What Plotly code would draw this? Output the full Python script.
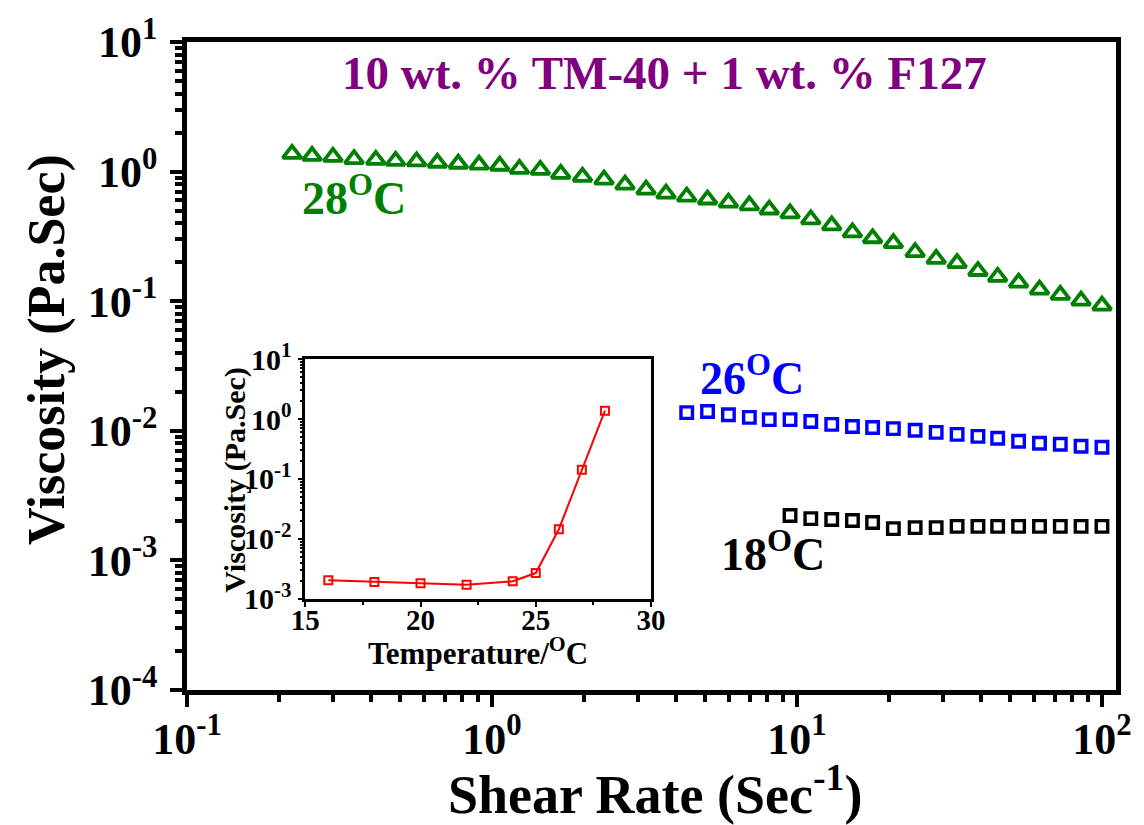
import plotly.graph_objects as go

# ---------------- data ----------------
shear_rate = [0.221, 0.257, 0.301, 0.353, 0.416, 0.483, 0.566, 0.662, 0.775, 0.907,
              1.06, 1.23, 1.44, 1.68, 1.98, 2.33, 2.73, 3.20, 3.72, 4.35,
              5.09, 5.96, 6.98, 8.11, 9.49, 11.1, 13.0, 15.2, 17.7, 20.7,
              24.4, 28.6, 33.5, 39.2, 45.5, 53.3, 62.4, 73.0, 85.4, 100.0]

visc_28C = [1.37, 1.32, 1.30, 1.25, 1.23, 1.21, 1.20, 1.17, 1.15, 1.13,
            1.11, 1.05, 1.03, 0.962, 0.912, 0.866, 0.793, 0.726, 0.676, 0.642,
            0.609, 0.577, 0.548, 0.510, 0.476, 0.428, 0.385, 0.340, 0.306, 0.281,
            0.239, 0.212, 0.197, 0.171, 0.154, 0.139, 0.123, 0.112, 0.101, 0.0926]

shear_rate_26C = shear_rate[19:]
visc_26C = [0.0138, 0.0141, 0.0133, 0.0127, 0.0122, 0.0122, 0.0118, 0.0112, 0.0108, 0.0106,
            0.0104, 0.0101, 0.00972, 0.00939, 0.00906, 0.00875, 0.00830, 0.00801, 0.00787, 0.00760,
            0.00746]

shear_rate_18C = shear_rate[24:]
visc_18C = [0.00222, 0.00210, 0.00207, 0.00203, 0.00196, 0.00176, 0.00179, 0.00179, 0.00183, 0.00183,
            0.00183, 0.00183, 0.00183, 0.00183, 0.00183, 0.00183]

temperature = [16, 18, 20, 22, 24, 25, 26, 27, 28]
visc_vs_temp = [0.00204, 0.00191, 0.00182, 0.00172, 0.00196, 0.00269, 0.0145, 0.143, 1.38]

main_x_ticks = [0.1, 1, 10, 100]
main_x_ticktext = ["10<sup>-1</sup>", "10<sup>0</sup>", "10<sup>1</sup>", "10<sup>2</sup>"]
main_y_ticks = [1e-4, 1e-3, 1e-2, 1e-1, 1, 10]
main_y_ticktext = ["10<sup>-4</sup>", "10<sup>-3</sup>", "10<sup>-2</sup>",
                   "10<sup>-1</sup>", "10<sup>0</sup>", "10<sup>1</sup>"]
inset_y_ticks = [1e-3, 1e-2, 1e-1, 1, 10]
inset_y_ticktext = ["10<sup>-3</sup>", "10<sup>-2</sup>", "10<sup>-1</sup>",
                    "10<sup>0</sup>", "10<sup>1</sup>"]

FONT = "Liberation Serif"

minor_x = [m * 10 ** e for e in range(-1, 2) for m in range(2, 10)]
minor_y = [m * 10 ** e for e in range(-4, 1) for m in range(2, 10)]
minor_y2 = [m * 10 ** e for e in range(-3, 1) for m in range(2, 10)]

fig = go.Figure()

fig.add_trace(go.Scatter(
    x=shear_rate, y=visc_28C, mode="markers", name="28 C",
    marker=dict(symbol="triangle-up-open", size=16, color="#008000",
                line=dict(width=3.8, color="#008000")),
    xaxis="x", yaxis="y"))
fig.add_trace(go.Scatter(
    x=shear_rate_26C, y=visc_26C, mode="markers", name="26 C",
    marker=dict(symbol="square-open", size=11.5, color="#0000FF",
                line=dict(width=3.4, color="#0000FF")),
    xaxis="x", yaxis="y"))
fig.add_trace(go.Scatter(
    x=shear_rate_18C, y=visc_18C, mode="markers", name="18 C",
    marker=dict(symbol="square-open", size=11.5, color="black",
                line=dict(width=3.4, color="black")),
    xaxis="x", yaxis="y"))

fig.add_trace(go.Scatter(
    x=temperature, y=visc_vs_temp, mode="lines+markers", name="inset",
    line=dict(color="#FF0000", width=2),
    marker=dict(symbol="square-open", size=8, color="#FF0000",
                line=dict(width=2, color="#FF0000")),
    xaxis="x2", yaxis="y2"))

axis_common = dict(showline=True, linecolor="black", mirror=True, showgrid=False,
                   zeroline=False, ticks="outside", tickcolor="black")

fig.update_layout(
    width=1144, height=825,
    margin=dict(l=187, r=22, t=36, b=135),
    paper_bgcolor="white", plot_bgcolor="white",
    showlegend=False,
    font=dict(family=FONT, color="black"),
    xaxis=dict(type="log", range=[-1, 2.046], linewidth=4.5, ticklen=12, tickwidth=4,
               tickvals=main_x_ticks, ticktext=main_x_ticktext,
               tickfont=dict(family=FONT, size=44, weight="bold"),
               ticklabelstandoff=-6,
               minor=dict(tickvals=minor_x, ticks="outside", ticklen=7, tickwidth=3.5,
                          tickcolor="black"),
               **axis_common),
    yaxis=dict(type="log", range=[-4, 1], linewidth=4.5, ticklen=12, tickwidth=4,
               tickvals=main_y_ticks, ticktext=main_y_ticktext,
               tickfont=dict(family=FONT, size=44, weight="bold"),
               ticklabelstandoff=4,
               minor=dict(tickvals=minor_y, ticks="outside", ticklen=7, tickwidth=3.5,
                          tickcolor="black"),
               **axis_common),
    xaxis2=dict(domain=[0.1273, 0.4995], anchor="y2", range=[15, 30], dtick=5,
                linewidth=2.5, ticklen=5, tickwidth=2,
                tickfont=dict(family=FONT, size=29, weight="bold"),
                ticklabelstandoff=-11,
                minor=dict(dtick=2.5, ticks="outside", ticklen=3, tickwidth=2,
                           tickcolor="black"),
                **axis_common),
    yaxis2=dict(domain=[0.1407, 0.5107], anchor="x2", type="log", range=[-3, 1],
                linewidth=2.5, ticklen=5, tickwidth=2,
                tickvals=inset_y_ticks, ticktext=inset_y_ticktext,
                tickfont=dict(family=FONT, size=30, weight="bold"),
                minor=dict(tickvals=minor_y2, ticks="outside", ticklen=3, tickwidth=1.5,
                           tickcolor="black"),
                **axis_common),
)

def label(text, x, y, size, color="black", angle=0):
    fig.add_annotation(text=text, x=x, y=y, xref="paper", yref="paper",
                       showarrow=False, textangle=angle,
                       xanchor="center", yanchor="middle",
                       font=dict(family=FONT, size=size, color=color, weight="bold"))

label("10 wt. % TM-40 + 1 wt. % F127", 0.5144, 0.952, 47, "#800080")
label("28<sup>O</sup>C", 0.1797, 0.764, 46, "#008000")
label("26<sup>O</sup>C", 0.6086, 0.486, 46, "#0000FF")
label("18<sup>O</sup>C", 0.631, 0.214, 46, "black")
label("Shear Rate (Sec<sup>-1</sup>)", 0.5037, -0.155, 54)
label("Viscosity (Pa.Sec)", -0.1508, 0.526, 52, angle=-90)
label("Temperature/<sup>O</sup>C", 0.3134, 0.060, 31)
label("Viscosity (Pa.Sec)", 0.0513, 0.324, 30, angle=-90)

fig.write_html("out.html", config={"displayModeBar": False},
               post_script="document.body.style.margin='0';")
